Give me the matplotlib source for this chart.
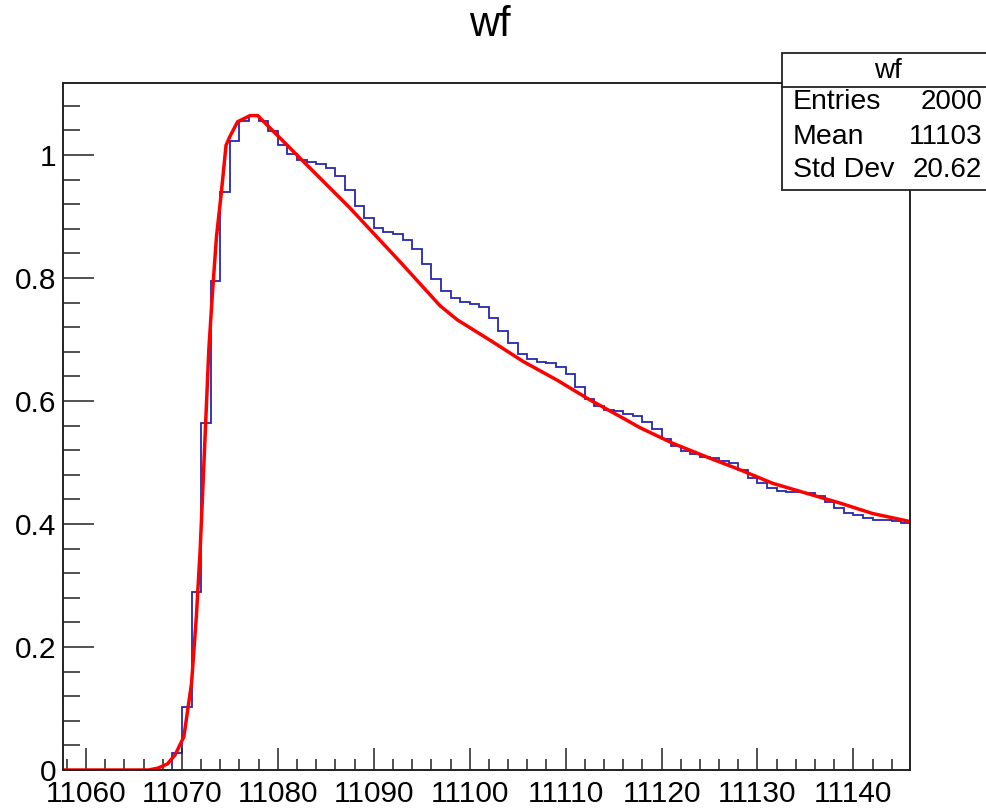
import matplotlib
matplotlib.use('Agg')
import matplotlib.pyplot as plt
import numpy as np
from matplotlib.patches import Rectangle
from matplotlib.lines import Line2D
from matplotlib.ticker import MultipleLocator

plt.rcParams['font.family'] = ['Liberation Sans', 'DejaVu Sans']

# histogram "wf": unit bins, lower edges from 11057
bin_start = 11057
counts = [0, 0, 0, 0, 0, 0, 0, 0, 0, 0, 0, 0,
          0.028, 0.103, 0.29, 0.565, 0.795, 0.940, 1.022, 1.056, 1.064, 1.056,
          1.039, 1.017, 1.002, 0.992, 0.988, 0.985, 0.978, 0.965, 0.943, 0.917,
          0.897, 0.881, 0.875, 0.871, 0.862, 0.847, 0.822, 0.798, 0.779, 0.767,
          0.761, 0.757, 0.752, 0.735, 0.713, 0.694, 0.676, 0.668, 0.663, 0.661,
          0.655, 0.644, 0.623, 0.604, 0.592, 0.586, 0.583, 0.579, 0.576, 0.566,
          0.554, 0.538, 0.527, 0.519, 0.513, 0.509, 0.507, 0.503, 0.499, 0.487,
          0.475, 0.466, 0.458, 0.454, 0.452, 0.452, 0.450, 0.446, 0.436, 0.426,
          0.418, 0.414, 0.409, 0.407, 0.407, 0.405, 0.401]
edges = np.arange(bin_start, bin_start + len(counts) + 1)

# fitted curve
fit_x = [11057.6, 11066.5, 11067.5, 11068.5, 11069.3, 11070.2, 11071.0, 11071.5,
         11071.9, 11072.35, 11072.8, 11073.2, 11073.6, 11074.1, 11074.6, 11075.0,
         11075.8, 11077.1, 11077.9, 11082.3, 11087.5, 11092.7, 11096.9, 11098.7,
         11102.1, 11105.6, 11109.1, 11112.5, 11116.0, 11117.7, 11121.2, 11124.7,
         11128.2, 11131.6, 11135.1, 11138.6, 11142.0, 11145.9]
fit_y = [0.0, 0.0, 0.003, 0.01, 0.025, 0.054, 0.141, 0.249,
         0.358, 0.520, 0.683, 0.78, 0.867, 0.938, 1.016, 1.030,
         1.054, 1.064, 1.064, 0.995, 0.914, 0.827, 0.755, 0.732,
         0.699, 0.664, 0.634, 0.602, 0.572, 0.557, 0.531, 0.509,
         0.488, 0.466, 0.450, 0.434, 0.417, 0.404]

stat_names = ['Entries', 'Mean', 'Std Dev']
stat_values = ['2000', '11103', '20.62']

W, H = 986, 808
fig = plt.figure(figsize=(W / 100, H / 100), dpi=100)
ax = fig.add_axes([63 / W, 1 - 770 / H, (910 - 63) / W, (770 - 83) / H])

ax.stairs(counts, edges, color='#2828b0', linewidth=1.3, baseline=None)
ax.plot(fit_x, fit_y, color='#ff0000', linewidth=2.5, solid_joinstyle='round')

ax.set_xlim(11057.6, 11145.9)
ax.set_ylim(0, 1.117)
ax.xaxis.set_major_locator(MultipleLocator(10))
ax.xaxis.set_minor_locator(MultipleLocator(2))
ax.yaxis.set_major_locator(MultipleLocator(0.2))
ax.yaxis.set_minor_locator(MultipleLocator(0.04))
ax.yaxis.set_major_formatter(matplotlib.ticker.FuncFormatter(lambda v, p: ('%g' % round(v, 2))))

ax.tick_params(axis='both', which='both', direction='in', colors='#222222',
               labelcolor='black', width=1.1, top=False, right=False)
ax.tick_params(axis='x', which='major', length=16, pad=7.5, labelsize=21.5)
ax.tick_params(axis='x', which='minor', length=8)
ax.tick_params(axis='y', which='major', length=22, pad=5, labelsize=21.5)
ax.tick_params(axis='y', which='minor', length=12)
for s in ax.spines.values():
    s.set_linewidth(1.4)
    s.set_color('#222222')

fig.text(0.497, 1 - 25 / H, 'wf', ha='center', va='center', fontsize=30)

# stats box
x0, x1 = 782 / W, 1.02
y_top, y_div, y_bot = 1 - 53 / H, 1 - 87 / H, 1 - 190 / H
fig.add_artist(Rectangle((x0, y_bot), x1 - x0, y_top - y_bot, transform=fig.transFigure,
                         facecolor='white', edgecolor='#222222', linewidth=1.3,
                         clip_on=False, zorder=5))
fig.add_artist(Line2D([x0, x1], [y_div, y_div], transform=fig.transFigure,
                      color='#222222', linewidth=1.3, zorder=6))
fig.text(888 / W, 1 - 71 / H, 'wf', ha='center', va='center', fontsize=20, zorder=7)
rows_y = [101.7, 136.7, 170]
for name, val, ry in zip(stat_names, stat_values, rows_y):
    fig.text(793 / W, 1 - ry / H, name, ha='left', va='center', fontsize=20.5, zorder=7)
    fig.text(982 / W, 1 - ry / H, val, ha='right', va='center', fontsize=20, zorder=7)

fig.savefig('out.png', dpi=100)
